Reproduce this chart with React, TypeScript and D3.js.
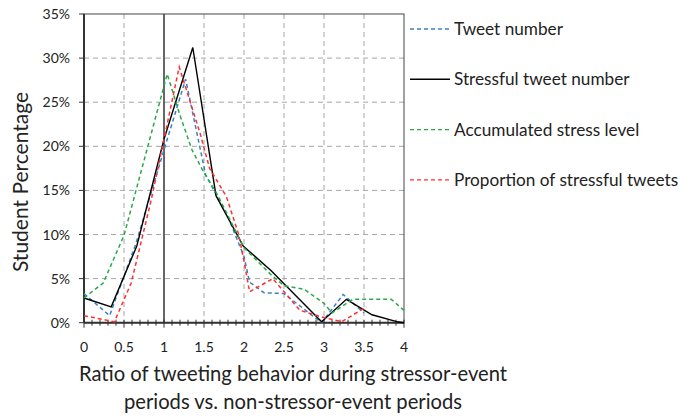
import React from 'react';
import * as d3 from 'd3';

// series: [ratio, percentage]
const tweetNumber: [number, number][] = [
  [0, 3.3], [0.32, 0.8], [0.65, 9.0], [1.0, 19.6], [1.27, 27.6], [1.52, 16.8],
  [1.8, 12.0], [2.0, 7.5], [2.07, 4.6], [2.25, 3.4], [2.5, 3.3], [2.97, 0],
  [3.24, 3.2], [3.5, 1.1],
];
const stressfulTweetNumber: [number, number][] = [
  [0, 2.8], [0.34, 1.8], [0.66, 8.7], [1.0, 20.8], [1.36, 31.2], [1.65, 14.4],
  [1.99, 8.7], [2.34, 5.9], [2.97, 0.1], [3.28, 2.65], [3.6, 0.9], [3.92, 0.1],
  [4.0, 0],
];
const accumulatedStress: [number, number][] = [
  [0, 2.8], [0.24, 4.5], [0.5, 9.9], [1.04, 28.2], [1.2, 23.5], [1.35, 19.6],
  [1.5, 17.0], [1.67, 14.5], [2.0, 8.5], [2.33, 5.5], [2.5, 4.2], [2.75, 3.8],
  [3.0, 2.2], [3.1, 1.1], [3.36, 2.65], [3.84, 2.65], [4.0, 1.4],
];
const stressfulProportion: [number, number][] = [
  [0, 0.8], [0.38, 0.1], [0.59, 4.5], [0.84, 13.9], [1.19, 29.0], [1.45, 21.5],
  [1.57, 17.5], [1.78, 14.3], [1.93, 10.1], [2.0, 7.0], [2.07, 3.5], [2.36, 5.0],
  [2.7, 1.4], [2.95, 0.7], [3.22, 0.1], [3.53, 1.8],
];

const seriesNames = ['Tweet number', 'Stressful tweet number', 'Accumulated stress level', 'Proportion of stressful tweets'];
const seriesColors = ['#3b7fc4', '#000000', '#2aa84a', '#ff3030'];
const xTicks = [0, 0.5, 1, 1.5, 2, 2.5, 3, 3.5, 4];
const yTicks = [0, 5, 10, 15, 20, 25, 30, 35];

const W = 694, H = 420;
const m = { left: 84, right: 404, top: 14, bottom: 322.7 };
const font = 'Lato, "Open Sans", sans-serif';

export default function App() {
  const x = d3.scaleLinear().domain([0, 4]).range([m.left, m.right]);
  const y = d3.scaleLinear().domain([0, 35]).range([m.bottom, m.top]);
  const line = d3.line<[number, number]>().x(d => x(d[0])).y(d => y(d[1]));
  const all = [tweetNumber, stressfulTweetNumber, accumulatedStress, stressfulProportion];
  const minor = d3.range(0, 41).map(i => i / 10);

  return (
    <svg width={W} height={H} style={{ position: 'absolute', left: 0, top: 0, background: '#fff' }}>
      {/* grid */}
      {xTicks.slice(1, -1).filter(t => t !== 1).map(t => (
        <line key={'gx' + t} x1={x(t)} x2={x(t)} y1={m.top} y2={m.bottom} stroke="#a6a6a6" strokeDasharray="5,4" />
      ))}
      {yTicks.slice(1, -1).map(t => (
        <line key={'gy' + t} x1={m.left} x2={m.right} y1={y(t)} y2={y(t)} stroke="#a6a6a6" strokeDasharray="5,4" />
      ))}
      <line x1={x(1)} x2={x(1)} y1={m.top} y2={m.bottom} stroke="#000" strokeWidth={1.2} />
      {/* frame */}
      <rect x={m.left} y={m.top} width={m.right - m.left} height={m.bottom - m.top} fill="none" stroke="#444" strokeWidth={1} />
      <line x1={m.left} x2={m.left} y1={m.top} y2={m.bottom} stroke="#333" strokeWidth={2} />
      <line x1={m.left} x2={m.right} y1={m.bottom} y2={m.bottom} stroke="#333" strokeWidth={2} />
      {/* y ticks */}
      {yTicks.map(t => (
        <g key={'yt' + t}>
          <line x1={m.left - 5} x2={m.left} y1={y(t)} y2={y(t)} stroke="#333" />
          <text x={m.left - 14} y={y(t) + 5} textAnchor="end" fontFamily={font} fontSize={14} fill="#222">{t}%</text>
        </g>
      ))}
      {/* x ticks */}
      {minor.map(t => (
        <line key={'xm' + t} x1={x(t)} x2={x(t)} y1={m.bottom - 3} y2={m.bottom + (Math.round(t * 10) % 5 === 0 ? 5 : 3)} stroke="#333" />
      ))}
      {xTicks.map(t => (
        <text key={'xl' + t} x={x(t)} y={352} textAnchor="middle" fontFamily={font} fontSize={14} fill="#222">{t}</text>
      ))}
      {/* series */}
      {all.map((s, i) => (
        <path key={'s' + i} d={line(s) || ''} fill="none" stroke={seriesColors[i]}
          strokeWidth={i === 1 ? 1.4 : 1.5} strokeDasharray={i === 1 ? undefined : '4,3'} />
      ))}
      {/* legend */}
      {seriesNames.map((n, i) => (
        <g key={'lg' + i} transform={`translate(410, ${29 + i * 50.3})`}>
          <line x1={0} x2={40} y1={0} y2={0} stroke={seriesColors[i]} strokeWidth={i === 1 ? 1.4 : 1.3} strokeDasharray={i === 1 ? undefined : '4,3'} />
          <text x={44} y={6} fontFamily={font} fontSize={17.2} fill="#222">{n}</text>
        </g>
      ))}
      {/* axis titles */}
      <text transform={`translate(28, 182) rotate(-90)`} textAnchor="middle" fontFamily={font} fontSize={21} fill="#222">Student Percentage</text>
      <text x={293} y={381} textAnchor="middle" fontFamily={font} fontSize={20.2} fill="#222">Ratio of tweeting behavior during stressor-event</text>
      <text x={293} y={409} textAnchor="middle" fontFamily={font} fontSize={20.2} fill="#222">periods vs. non-stressor-event periods</text>
    </svg>
  );
}
